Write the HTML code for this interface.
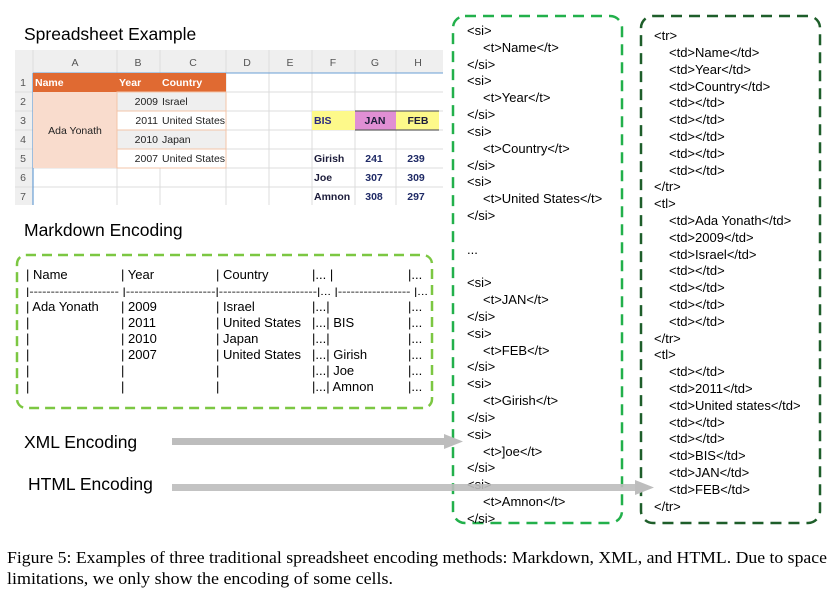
<!DOCTYPE html>
<html><head><meta charset="utf-8"><style>
html,body{margin:0;padding:0;background:#fff;}
svg{display:block;}
.a{font-family:"Liberation Sans",Arial,sans-serif;}
.c{font-family:"Liberation Sans Narrow","Liberation Sans",sans-serif;font-size:10.5px;}
</style></head><body>
<svg width="840" height="595" viewBox="0 0 840 595" xmlns="http://www.w3.org/2000/svg">
<rect width="840" height="595" fill="#fff"/>
<text x="24" y="40" class="a" font-size="17.5" fill="#000">Spreadsheet Example</text>
<rect x="15" y="50" width="428" height="23" fill="#efefef"/>
<rect x="15" y="73" width="18" height="132" fill="#efefef"/>
<g stroke="#dcdcdc" stroke-width="1">
<line x1="33" y1="50" x2="33" y2="205"/><line x1="117" y1="50" x2="117" y2="205"/><line x1="160" y1="50" x2="160" y2="205"/><line x1="226" y1="50" x2="226" y2="205"/><line x1="269" y1="50" x2="269" y2="205"/><line x1="312" y1="50" x2="312" y2="205"/><line x1="355" y1="50" x2="355" y2="205"/><line x1="396" y1="50" x2="396" y2="205"/>
<line x1="15" y1="92" x2="443" y2="92"/><line x1="15" y1="111" x2="443" y2="111"/><line x1="15" y1="130" x2="443" y2="130"/><line x1="15" y1="149" x2="443" y2="149"/><line x1="15" y1="168" x2="443" y2="168"/><line x1="15" y1="187" x2="443" y2="187"/>
</g>
<line x1="33" y1="73" x2="33" y2="205" stroke="#6a9fd4" stroke-width="1.2"/>
<line x1="33" y1="73" x2="443" y2="73" stroke="#6a9fd4" stroke-width="1"/>
<rect x="33" y="73" width="193" height="19" fill="#e06a32"/>
<rect x="33" y="92" width="84" height="76" fill="#f9dccd"/>
<rect x="117" y="92" width="109" height="19" fill="#efefef"/>
<rect x="117" y="111" width="109" height="19" fill="#fff"/>
<rect x="117" y="130" width="109" height="19" fill="#efefef"/>
<rect x="117" y="149" width="109" height="19" fill="#fff"/>
<g stroke="#f3c4a8" fill="none"><rect x="117" y="92" width="109" height="76"/><line x1="117" y1="111" x2="226" y2="111"/><line x1="117" y1="130" x2="226" y2="130"/><line x1="117" y1="149" x2="226" y2="149"/></g>
<rect x="312" y="111" width="43" height="19" fill="#fdf98a"/>
<rect x="355" y="111" width="41" height="19" fill="#e08fd4"/>
<rect x="396" y="111" width="43" height="19" fill="#fdf98a"/>
<line x1="355" y1="111" x2="439" y2="111" stroke="#666" stroke-width="1.3"/>
<line x1="355" y1="130" x2="439" y2="130" stroke="#666" stroke-width="1.3"/>
<g class="c" fill="#555" text-anchor="middle">
<text x="75" y="66">A</text><text x="138" y="66">B</text><text x="193" y="66">C</text><text x="247" y="66">D</text><text x="290" y="66">E</text><text x="333" y="66">F</text><text x="375" y="66">G</text><text x="418" y="66">H</text>
<text x="23" y="86">1</text><text x="23" y="105">2</text><text x="23" y="124">3</text><text x="23" y="143">4</text><text x="23" y="162">5</text><text x="23" y="181">6</text><text x="23" y="200">7</text>
</g>
<g class="c" font-weight="bold" fill="#fff"><text x="35" y="86">Name</text><text x="119" y="86">Year</text><text x="162" y="86">Country</text></g>
<g class="c" fill="#222">
<text x="75" y="134" text-anchor="middle">Ada Yonath</text>
<text x="158" y="105" text-anchor="end">2009</text><text x="162" y="105">Israel</text>
<text x="158" y="124" text-anchor="end">2011</text><text x="162" y="124">United States</text>
<text x="158" y="143" text-anchor="end">2010</text><text x="162" y="143">Japan</text>
<text x="158" y="162" text-anchor="end">2007</text><text x="162" y="162">United States</text>
</g>
<g class="c" font-weight="bold" fill="#1c1c3a">
<text x="314" y="124" fill="#2a2a80">BIS</text><text x="375" y="124" text-anchor="middle">JAN</text><text x="418" y="124" text-anchor="middle">FEB</text>
<text x="314" y="162">Girish</text><text x="314" y="181">Joe</text><text x="314" y="200">Amnon</text>
</g>
<g class="c" font-weight="bold" fill="#1f2a66" text-anchor="middle">
<text x="374" y="162">241</text><text x="416" y="162">239</text>
<text x="374" y="181">307</text><text x="416" y="181">309</text>
<text x="374" y="200">308</text><text x="416" y="200">297</text>
</g>

<text x="24" y="236" class="a" font-size="17.5" fill="#000">Markdown Encoding</text>
<rect x="17" y="255" width="415" height="153" rx="9" fill="none" stroke="#7cc742" stroke-width="2.5" stroke-dasharray="10,6"/>
<g class="a" font-size="13" fill="#000">
<text x="26" y="279">| Name</text><text x="121" y="279">| Year</text><text x="216" y="279">| Country</text><text x="312" y="279">|... |</text><text x="408" y="279">|...</text>
<text x="26" y="295" font-size="10" textLength="402" lengthAdjust="spacingAndGlyphs">|--------------------- |---------------------|-----------------------|... |----------------- |...</text>
<text x="26" y="311">| Ada Yonath</text><text x="121" y="311">| 2009</text><text x="216" y="311">| Israel</text><text x="312" y="311">|...|</text><text x="408" y="311">|...</text>
<text x="26" y="327">|</text><text x="121" y="327">| 2011</text><text x="216" y="327">| United States</text><text x="312" y="327">|...| BIS</text><text x="408" y="327">|...</text>
<text x="26" y="343">|</text><text x="121" y="343">| 2010</text><text x="216" y="343">| Japan</text><text x="312" y="343">|...|</text><text x="408" y="343">|...</text>
<text x="26" y="359">|</text><text x="121" y="359">| 2007</text><text x="216" y="359">| United States</text><text x="312" y="359">|...| Girish</text><text x="408" y="359">|...</text>
<text x="26" y="375">|</text><text x="121" y="375">|</text><text x="216" y="375">|</text><text x="312" y="375">|...| Joe</text><text x="408" y="375">|...</text>
<text x="26" y="391">|</text><text x="121" y="391">|</text><text x="216" y="391">|</text><text x="312" y="391">|...| Amnon</text><text x="408" y="391">|...</text>
</g>

<text x="24" y="448" class="a" font-size="17.5" fill="#000">XML Encoding</text>
<text x="28" y="490" class="a" font-size="17.5" fill="#000">HTML Encoding</text>

<rect x="453" y="16" width="169" height="507" rx="12" fill="none" stroke="#22b04b" stroke-width="2.5" stroke-dasharray="11,7"/>
<g class="a" font-size="13" fill="#000">
<text x="467" y="35">&lt;si&gt;</text>
<text x="483" y="52">&lt;t&gt;Name&lt;/t&gt;</text>
<text x="467" y="69">&lt;/si&gt;</text>
<text x="467" y="85">&lt;si&gt;</text>
<text x="483" y="102">&lt;t&gt;Year&lt;/t&gt;</text>
<text x="467" y="119">&lt;/si&gt;</text>
<text x="467" y="136">&lt;si&gt;</text>
<text x="483" y="153">&lt;t&gt;Country&lt;/t&gt;</text>
<text x="467" y="170">&lt;/si&gt;</text>
<text x="467" y="186">&lt;si&gt;</text>
<text x="483" y="203">&lt;t&gt;United States&lt;/t&gt;</text>
<text x="467" y="220">&lt;/si&gt;</text>
<text x="467" y="254">...</text>
<text x="467" y="287">&lt;si&gt;</text>
<text x="483" y="304">&lt;t&gt;JAN&lt;/t&gt;</text>
<text x="467" y="321">&lt;/si&gt;</text>
<text x="467" y="338">&lt;si&gt;</text>
<text x="483" y="355">&lt;t&gt;FEB&lt;/t&gt;</text>
<text x="467" y="371">&lt;/si&gt;</text>
<text x="467" y="388">&lt;si&gt;</text>
<text x="483" y="405">&lt;t&gt;Girish&lt;/t&gt;</text>
<text x="467" y="422">&lt;/si&gt;</text>
<text x="467" y="439">&lt;si&gt;</text>
<text x="483" y="456">&lt;t&gt;]oe&lt;/t&gt;</text>
<text x="467" y="472">&lt;/si&gt;</text>
<text x="467" y="489">&lt;si&gt;</text>
<text x="483" y="506">&lt;t&gt;Amnon&lt;/t&gt;</text>
<text x="467" y="523">&lt;/si&gt;</text>
</g>

<rect x="641" y="16" width="179" height="507" rx="12" fill="none" stroke="#1e5e2a" stroke-width="2.5" stroke-dasharray="11,7"/>
<g class="a" font-size="13" fill="#000">
<text x="654" y="40">&lt;tr&gt;</text>
<text x="669" y="57">&lt;td&gt;Name&lt;/td&gt;</text>
<text x="669" y="74">&lt;td&gt;Year&lt;/td&gt;</text>
<text x="669" y="91">&lt;td&gt;Country&lt;/td&gt;</text>
<text x="669" y="107">&lt;td&gt;&lt;/td&gt;</text>
<text x="669" y="124">&lt;td&gt;&lt;/td&gt;</text>
<text x="669" y="141">&lt;td&gt;&lt;/td&gt;</text>
<text x="669" y="158">&lt;td&gt;&lt;/td&gt;</text>
<text x="669" y="175">&lt;td&gt;&lt;/td&gt;</text>
<text x="654" y="191">&lt;/tr&gt;</text>
<text x="654" y="208">&lt;tl&gt;</text>
<text x="669" y="225">&lt;td&gt;Ada Yonath&lt;/td&gt;</text>
<text x="669" y="242">&lt;td&gt;2009&lt;/td&gt;</text>
<text x="669" y="259">&lt;td&gt;Israel&lt;/td&gt;</text>
<text x="669" y="275">&lt;td&gt;&lt;/td&gt;</text>
<text x="669" y="292">&lt;td&gt;&lt;/td&gt;</text>
<text x="669" y="309">&lt;td&gt;&lt;/td&gt;</text>
<text x="669" y="326">&lt;td&gt;&lt;/td&gt;</text>
<text x="654" y="343">&lt;/tr&gt;</text>
<text x="654" y="359">&lt;tl&gt;</text>
<text x="669" y="376">&lt;td&gt;&lt;/td&gt;</text>
<text x="669" y="393">&lt;td&gt;2011&lt;/td&gt;</text>
<text x="669" y="410">&lt;td&gt;United states&lt;/td&gt;</text>
<text x="669" y="427">&lt;td&gt;&lt;/td&gt;</text>
<text x="669" y="443">&lt;td&gt;&lt;/td&gt;</text>
<text x="669" y="460">&lt;td&gt;BIS&lt;/td&gt;</text>
<text x="669" y="477">&lt;td&gt;JAN&lt;/td&gt;</text>
<text x="669" y="494">&lt;td&gt;FEB&lt;/td&gt;</text>
<text x="654" y="511">&lt;/tr&gt;</text>
</g>

<rect x="172" y="438" width="274" height="7" fill="#bdbdbd"/>
<polygon points="444,434 463,441.5 444,449" fill="#bdbdbd"/>
<rect x="172" y="484" width="465" height="7" fill="#bdbdbd" fill-opacity="0.9"/>
<polygon points="635,480 654,487.5 635,495" fill="#bdbdbd"/>

<g font-family="'Liberation Serif',serif" font-size="17" fill="#000">
<text x="7" y="563" textLength="820" lengthAdjust="spacingAndGlyphs">Figure 5: Examples of three traditional spreadsheet encoding methods: Markdown, XML, and HTML. Due to space</text>
<text x="7" y="584" textLength="386" lengthAdjust="spacingAndGlyphs">limitations, we only show the encoding of some cells.</text>
</g>
</svg>
</body></html>
